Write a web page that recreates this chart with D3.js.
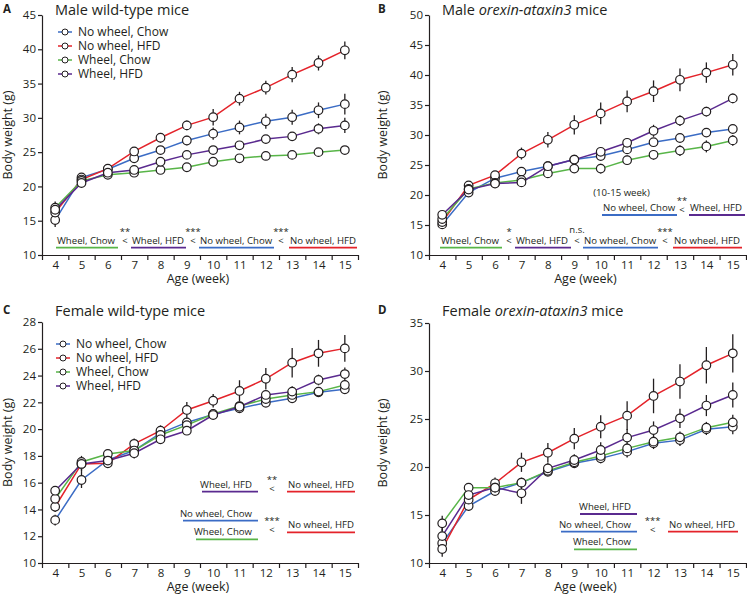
<!DOCTYPE html>
<html>
<head>
<meta charset="utf-8">
<script src="https://cdn.jsdelivr.net/npm/d3@7"></script>
<style>
  body { margin: 0; background: #fff; }
  text { font-family: "Open Sans", sans-serif; fill: #231f20; }
  .axis path, .axis line { stroke: #231f20; stroke-width: 1.2; }
</style>
</head>
<body>
<script>
// ---- data (series order: No wheel Chow, No wheel HFD, Wheel Chow, Wheel HFD)
var weeks = d3.range(4, 16);
var groups = ['No wheel, Chow', 'No wheel, HFD', 'Wheel, Chow', 'Wheel, HFD'];
var groupColors = ['#3b6cc5', '#e4232a', '#58b548', '#5a2a8f'];

var maleWtMean = [
  [15.1, 21.3, 22.5, 24.1, 25.3, 26.7, 27.7, 28.6, 29.5, 30.1, 31.1, 32.0],
  [16.2, 21.0, 22.6, 25.1, 27.1, 28.9, 30.1, 32.8, 34.4, 36.3, 38.0, 39.85],
  [16.9, 20.8, 21.7, 22.0, 22.4, 22.8, 23.6, 24.1, 24.45, 24.6, 25.0, 25.3],
  [16.6, 20.5, 22.0, 22.4, 23.6, 24.6, 25.3, 26.0, 26.9, 27.3, 28.4, 28.9]
];
var maleWtSem = [
  [1.0, 0.5, 0.4, 0.5, 0.6, 0.7, 0.9, 1.0, 1.1, 1.1, 1.15, 1.5],
  [1.1, 0.8, 0.5, 0.6, 0.7, 0.7, 1.2, 1.0, 1.0, 1.1, 1.1, 1.3],
  [0.9, 0.5, 0.4, 0.4, 0.4, 0.4, 0.3, 0.3, 0.3, 0.3, 0.3, 0.3],
  [0.9, 0.6, 0.4, 0.5, 0.5, 0.5, 0.5, 0.6, 0.6, 0.6, 0.8, 1.1]
];

var maleOxMean = [
  [15.1, 20.4, 22.8, 23.9, 24.8, 25.9, 26.5, 27.6, 28.8, 29.5, 30.4, 31.0],
  [15.5, 21.6, 23.3, 26.9, 29.2, 31.7, 33.6, 35.6, 37.3, 39.2, 40.4, 41.7],
  [16.0, 21.0, 22.0, 22.5, 23.6, 24.4, 24.4, 25.8, 26.7, 27.4, 28.1, 29.1],
  [16.7, 20.9, 21.9, 22.1, 24.8, 25.9, 27.2, 28.7, 30.7, 32.4, 33.9, 36.1]
];
var maleOxSem = [
  [0.5, 0.5, 0.4, 0.4, 0.4, 0.4, 0.4, 0.4, 0.4, 0.4, 0.4, 0.5],
  [0.6, 0.5, 0.6, 1.0, 1.3, 1.6, 1.8, 1.8, 1.8, 1.9, 1.7, 1.8],
  [0.6, 0.5, 0.5, 0.8, 0.7, 0.7, 0.8, 0.8, 0.8, 0.9, 1.0, 0.9],
  [0.5, 0.5, 0.5, 0.7, 0.6, 0.6, 0.8, 0.8, 1.0, 0.9, 0.8, 0.8]
];

var femaleWtMean = [
  [13.2, 16.2, 17.7, 18.4, 19.7, 20.5, 21.1, 21.55, 21.97, 22.3, 22.75, 22.97],
  [14.2, 17.4, 17.45, 18.9, 19.88, 21.43, 22.12, 22.85, 23.76, 24.96, 25.66, 26.03],
  [14.8, 17.55, 18.14, 18.4, 19.56, 20.3, 21.13, 21.72, 22.25, 22.55, 22.8, 23.3],
  [15.4, 17.4, 17.65, 18.2, 19.24, 19.88, 21.05, 21.67, 22.55, 22.8, 23.67, 24.11]
];
var femaleWtSem = [
  [0.4, 0.6, 0.3, 0.3, 0.3, 0.3, 0.3, 0.3, 0.3, 0.3, 0.3, 0.3],
  [0.4, 0.5, 0.3, 0.4, 0.4, 0.6, 0.5, 0.8, 0.8, 1.1, 1.0, 1.0],
  [0.3, 0.3, 0.3, 0.3, 0.3, 0.3, 0.3, 0.3, 0.3, 0.3, 0.3, 0.3],
  [0.3, 0.6, 0.3, 0.4, 0.3, 0.3, 0.3, 0.3, 0.3, 0.4, 0.4, 0.5]
];

var femaleOxMean = [
  [12.05, 15.94, 17.5, 18.37, 19.5, 20.38, 20.9, 21.6, 22.47, 22.8, 23.93, 24.2],
  [11.46, 16.6, 18.3, 20.49, 21.49, 22.95, 24.2, 25.35, 27.4, 28.9, 30.6, 31.84],
  [14.13, 17.85, 17.85, 18.37, 19.6, 20.49, 21.15, 21.94, 22.64, 23.09, 24.1, 24.65],
  [12.8, 17.08, 17.85, 17.26, 19.86, 20.73, 21.77, 23.06, 23.85, 25.07, 26.4, 27.5]
];
var femaleOxSem = [
  [0.8, 0.5, 0.4, 0.5, 0.4, 0.4, 0.5, 0.6, 0.6, 0.6, 0.6, 0.8],
  [0.8, 0.6, 0.6, 1.0, 1.0, 1.1, 1.2, 1.5, 1.8, 1.8, 1.9, 2.0],
  [0.8, 0.4, 0.4, 0.5, 0.4, 0.5, 0.5, 0.5, 0.6, 0.6, 0.6, 0.8],
  [0.8, 0.6, 0.5, 1.1, 0.6, 0.6, 0.8, 0.9, 0.9, 1.0, 1.1, 1.3]
];

var yTicksA = d3.range(10, 46, 5);
var yTicksB = d3.range(10, 51, 5);
var yTicksC = d3.range(10, 29, 2);
var yTicksD = d3.range(10, 36, 5);

// ---- layout
var svg = d3.select('body').append('svg').attr('width', 747).attr('height', 596);

var panels = [
  { letter: 'A', title: ['Male wild-type mice'], mean: maleWtMean, sem: maleWtSem, ticks: yTicksA,
    x0: 42, x1: 358, yTop: 15, yBot: 255, ox: 0, oy: 0, legend: { x: 58, y: 32 } },
  { letter: 'B', title: ['Male ', 'orexin-ataxin3', ' mice'], mean: maleOxMean, sem: maleOxSem, ticks: yTicksB,
    x0: 429, x1: 746, yTop: 15, yBot: 255, ox: 375, oy: 0 },
  { letter: 'C', title: ['Female wild-type mice'], mean: femaleWtMean, sem: femaleWtSem, ticks: yTicksC,
    x0: 42, x1: 358, yTop: 322, yBot: 563, ox: 0, oy: 301, legend: { x: 56, y: 344 } },
  { letter: 'D', title: ['Female ', 'orexin-ataxin3', ' mice'], mean: femaleOxMean, sem: femaleOxSem, ticks: yTicksD,
    x0: 429, x1: 746, yTop: 323, yBot: 563, ox: 375, oy: 301 }
];

panels.forEach(drawPanel);

function drawPanel(p) {
  var x = d3.scaleLinear().domain([3.5, 15.5]).range([p.x0, p.x1]);
  var y = d3.scaleLinear().domain([p.ticks[0], p.ticks[p.ticks.length - 1]]).range([p.yBot, p.yTop]);
  var g = svg.append('g');

  // axes
  g.append('g')
    .attr('class', 'axis')
    .attr('transform', 'translate(' + p.x0 + ',0)')
    .call(d3.axisLeft(y).tickValues(p.ticks).tickSize(4).tickSizeOuter(0).tickPadding(2))
    .selectAll('text').attr('font-size', '11.5px').attr('font-family', 'Open Sans');

  var xb = g.append('g')
    .attr('class', 'axis')
    .attr('transform', 'translate(0,' + p.yBot + ')');
  xb.call(d3.axisBottom(x).tickValues(d3.range(3.5, 15.6, 1)).tickSize(5).tickSizeOuter(0).tickFormat(''));
  xb.append('g')
    .call(d3.axisBottom(x).tickValues(weeks).tickSize(0).tickPadding(6))
    .call(function (s) { s.select('.domain').remove(); })
    .selectAll('text').attr('font-size', '11.5px').attr('font-family', 'Open Sans');
  g.selectAll('.axis text').attr('fill', '#231f20');

  // titles
  g.append('text')
    .attr('x', p.ox + 3).attr('y', p.oy + 13)
    .attr('font-size', '11.5px').attr('font-weight', 'bold')
    .text(p.letter);
  var t = g.append('text')
    .attr('x', p.x0 + 13).attr('y', p.oy + 14.5)
    .attr('font-size', '14.5px');
  p.title.forEach(function (s, i) {
    t.append('tspan').attr('font-style', i === 1 ? 'italic' : 'normal').text(s);
  });

  g.append('text')
    .attr('transform', 'translate(' + (p.ox + 12) + ',' + (p.yTop + p.yBot) / 2 + ') rotate(-90)')
    .attr('text-anchor', 'middle')
    .attr('font-size', '12.5px')
    .text('Body weight (g)');
  g.append('text')
    .attr('x', (p.x0 + p.x1) / 2 - 2).attr('y', p.yBot + 28)
    .attr('text-anchor', 'middle')
    .attr('font-size', '12.5px')
    .text('Age (week)');

  // lines + error bars, then markers on top
  var line = d3.line().x(function (d, i) { return x(weeks[i]); }).y(function (d) { return y(d); });
  p.mean.forEach(function (m, k) {
    g.append('path').attr('d', line(m))
      .attr('fill', 'none').attr('stroke', groupColors[k]).attr('stroke-width', 1.5);
  });
  p.mean.forEach(function (m, k) {
    g.selectAll(null).data(m).enter().append('line')
      .attr('x1', function (d, i) { return x(weeks[i]); })
      .attr('x2', function (d, i) { return x(weeks[i]); })
      .attr('y1', function (d, i) { return y(d - p.sem[k][i]); })
      .attr('y2', function (d, i) { return y(d + p.sem[k][i]); })
      .attr('stroke', '#231f20').attr('stroke-width', 1.3);
  });
  p.mean.forEach(function (m) {
    g.selectAll(null).data(m).enter().append('circle')
      .attr('cx', function (d, i) { return x(weeks[i]); })
      .attr('cy', function (d) { return y(d); })
      .attr('r', 4.3)
      .attr('fill', '#fff').attr('stroke', '#231f20').attr('stroke-width', 1.2);
  });

  if (p.legend) {
    groups.forEach(function (name, k) {
      var ly = p.legend.y + k * 14;
      g.append('line').attr('x1', p.legend.x).attr('x2', p.legend.x + 14)
        .attr('y1', ly).attr('y2', ly).attr('stroke', groupColors[k]).attr('stroke-width', 1.5);
      g.append('circle').attr('cx', p.legend.x + 7).attr('cy', ly).attr('r', 3)
        .attr('fill', '#fff').attr('stroke', '#231f20').attr('stroke-width', 1);
      g.append('text').attr('x', p.legend.x + 20).attr('y', ly + 4.3)
        .attr('font-size', '12px').text(name);
    });
  }
}

// ---- significance annotations (group index, bar ends, bar y, text alignment)
var bars = [
  { g: 2, x0: 56, x1: 118, y: 247.7, align: 'start' },
  { g: 3, x0: 131, x1: 186, y: 247.7, align: 'start' },
  { g: 0, x0: 199, x1: 274, y: 247.7, align: 'start' },
  { g: 1, x0: 289, x1: 357, y: 247.7, align: 'start' },
  { g: 0, x0: 602, x1: 677, y: 215, align: 'start' },
  { g: 3, x0: 689, x1: 745, y: 215, align: 'start' },
  { g: 2, x0: 440, x1: 502, y: 247.7, align: 'start' },
  { g: 3, x0: 515, x1: 571, y: 247.7, align: 'start' },
  { g: 0, x0: 583, x1: 658, y: 247.7, align: 'start' },
  { g: 1, x0: 673, x1: 742, y: 247.7, align: 'start' },
  { g: 3, x0: 202, x1: 258, y: 491.7, align: 'end' },
  { g: 1, x0: 287, x1: 355, y: 491.7, align: 'start' },
  { g: 0, x0: 183, x1: 258, y: 520.7, align: 'end' },
  { g: 2, x0: 196, x1: 258, y: 539.3, align: 'end' },
  { g: 1, x0: 287, x1: 355, y: 532.3, align: 'start' },
  { g: 3, x0: 580, x1: 637, y: 514, align: 'end' },
  { g: 0, x0: 561, x1: 637, y: 531.7, align: 'end' },
  { g: 2, x0: 574, x1: 637, y: 549.3, align: 'end' },
  { g: 1, x0: 668, x1: 738, y: 531.7, align: 'start' }
];
var marks = [
  ['**', 125, 240], ['***', 193, 240], ['***', 281, 240],
  ['**', 682, 209],
  ['*', 509, 240.7], ['n.s.', 577, 240.7], ['***', 665, 240.7],
  ['**', 272, 488], ['***', 272, 529],
  ['***', 652.7, 529.3]
];

var ann = svg.append('g');
bars.forEach(function (b) {
  ann.append('line').attr('x1', b.x0).attr('x2', b.x1).attr('y1', b.y).attr('y2', b.y)
    .attr('stroke', groupColors[b.g]).attr('stroke-width', 1.8);
  ann.append('text')
    .attr('x', b.align === 'start' ? b.x0 + 1 : b.x1 - 6)
    .attr('y', b.y - 4)
    .attr('text-anchor', b.align)
    .attr('font-size', '9.6px')
    .text(groups[b.g]);
});
// star/significance label stacked over a "<" sign, in one text element
marks.forEach(function (m) {
  var top = m[2] - (m[0] === 'n.s.' ? 8 : 5.5);
  var st = ann.append('text').attr('text-anchor', 'middle').attr('font-size', '9.5px');
  st.append('tspan').attr('x', m[1]).attr('y', top).text(m[0]);
  st.append('tspan').attr('x', m[1]).attr('y', m[2] + 3.5).text('<');
});
ann.append('text').attr('x', 621.5).attr('y', 196)
  .attr('text-anchor', 'middle').attr('font-size', '9.6px').text('(10-15 week)');
</script>
</body>
</html>
